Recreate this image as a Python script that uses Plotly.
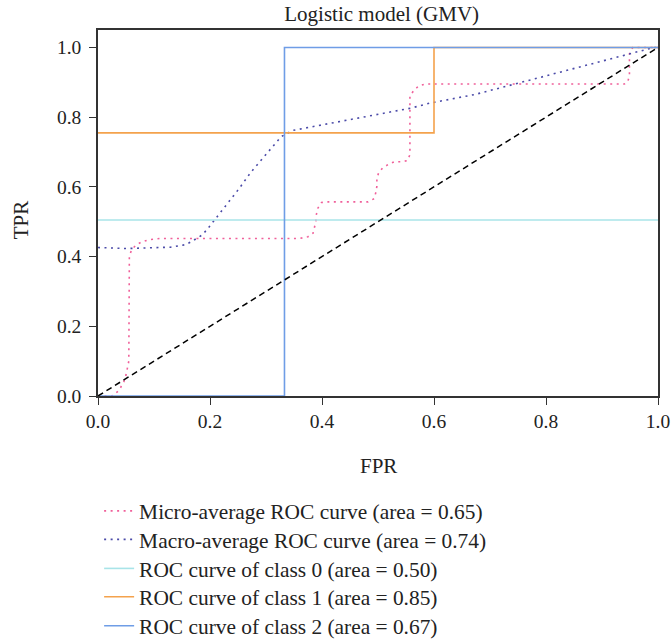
import plotly.graph_objects as go

# ---- data ----
micro_fpr = [0.0, 0.025, 0.037, 0.046, 0.05, 0.055, 0.056, 0.06, 0.068, 0.078, 0.09, 0.11, 0.36, 0.375, 0.384,
             0.389, 0.39, 0.393, 0.399, 0.411, 0.482, 0.493, 0.496, 0.498, 0.498, 0.501, 0.508, 0.518, 0.529,
             0.541, 0.552, 0.557, 0.557, 0.557, 0.557, 0.564, 0.573, 0.585, 0.94, 0.946, 0.949, 0.949, 0.955, 1.0]
micro_tpr = [0.0, 0.0, 0.015, 0.04, 0.06, 0.10, 0.40, 0.42, 0.433, 0.442, 0.448, 0.452, 0.452, 0.457, 0.467,
             0.50, 0.521, 0.54, 0.555, 0.557, 0.557, 0.566, 0.583, 0.602, 0.623, 0.64, 0.654, 0.664, 0.672,
             0.672, 0.675, 0.692, 0.711, 0.82, 0.86, 0.877, 0.89, 0.895, 0.895, 0.901, 0.92, 0.982, 1.0, 1.0]

macro_fpr = [0.0, 0.05, 0.13, 0.156, 0.166, 0.176, 0.185, 0.194, 0.209, 0.223, 0.252, 0.273, 0.303, 0.327,
             0.348, 0.371, 0.382, 0.559, 0.592, 0.673, 0.799, 0.848, 0.903, 0.937, 0.961, 0.973, 0.993, 1.0]
macro_tpr = [0.426, 0.423, 0.427, 0.434, 0.442, 0.452, 0.461, 0.476, 0.507, 0.536, 0.595, 0.642, 0.70, 0.744,
             0.762, 0.769, 0.773, 0.826, 0.84, 0.865, 0.918, 0.939, 0.961, 0.977, 0.987, 0.993, 1.0, 1.0]

c0_fpr = [0.0, 1.0]
c0_tpr = [0.505, 0.505]
c1_fpr = [0.0, 0.6, 0.6, 1.0]
c1_tpr = [0.755, 0.755, 1.0, 1.0]
c2_fpr = [0.0, 0.333, 0.333, 1.0]
c2_tpr = [0.0, 0.0, 1.0, 1.0]

names = ["Micro-average ROC curve (area = 0.65)",
         "Macro-average ROC curve (area = 0.74)",
         "ROC curve of class 0 (area = 0.50)",
         "ROC curve of class 1 (area = 0.85)",
         "ROC curve of class 2 (area = 0.67)"]

FONT = "Liberation Serif"
TXT = "#222222"
legend_ids = ["legend", "legend2", "legend3", "legend4", "legend5"]
legend_y = [-0.3142, -0.3920, -0.4713, -0.5486, -0.6278]

fig = go.Figure()
fig.add_trace(go.Scatter(x=micro_fpr, y=micro_tpr, mode="lines", name=names[0], legend=legend_ids[0],
                         line=dict(color="#f0609a", width=1.6, dash="2px,4.5px")))
fig.add_trace(go.Scatter(x=macro_fpr, y=macro_tpr, mode="lines", name=names[1], legend=legend_ids[1],
                         line=dict(color="#4a4aa8", width=1.6, dash="2px,4.5px")))
fig.add_trace(go.Scatter(x=c0_fpr, y=c0_tpr, mode="lines", name=names[2], legend=legend_ids[2],
                         line=dict(color="#a8e4e8", width=1.6)))
fig.add_trace(go.Scatter(x=c1_fpr, y=c1_tpr, mode="lines", name=names[3], legend=legend_ids[3],
                         line=dict(color="#f4a24c", width=1.6)))
fig.add_trace(go.Scatter(x=c2_fpr, y=c2_tpr, mode="lines", name=names[4], legend=legend_ids[4],
                         line=dict(color="#6f9de6", width=1.6)))
fig.add_trace(go.Scatter(x=[0, 1], y=[0, 1], mode="lines", showlegend=False,
                         line=dict(color="black", width=1.5, dash="6px,4px")))

axis_common = dict(showline=True, linecolor="#333333", linewidth=1.6, mirror=True,
                   ticks="outside", ticklen=7, tickwidth=1.2, tickcolor="#333333",
                   showgrid=False, zeroline=False, automargin=False, layer="above traces",
                   tickfont=dict(family=FONT, size=19.5, color=TXT),
                   tickformat=".1f", dtick=0.2)

legend_layout = {}
for lid, ly in zip(legend_ids, legend_y):
    legend_layout[lid] = dict(x=0.002, y=ly, xanchor="left", yanchor="middle", bgcolor="rgba(0,0,0,0)",
                              font=dict(family=FONT, size=21.4, color=TXT))

fig.update_layout(
    width=672, height=642,
    margin=dict(l=98, r=14, t=30, b=246, autoexpand=False),
    paper_bgcolor="white", plot_bgcolor="white",
    title=dict(text="Logistic model (GMV)", x=0.568, xanchor="center", y=0.978, yanchor="middle",
               font=dict(family=FONT, size=21, color=TXT)),
    xaxis=dict(range=[0, 1], ticklabelstandoff=0, **axis_common),
    yaxis=dict(range=[0, 1.05], ticklabelstandoff=4, **axis_common),
    showlegend=True,
    annotations=[
        dict(text="FPR", xref="paper", yref="paper", x=0.5, y=-0.191, xanchor="center", yanchor="middle",
             showarrow=False, font=dict(family=FONT, size=21, color=TXT)),
        dict(text="TPR", xref="paper", yref="paper", x=-0.137, y=0.481, xanchor="center", yanchor="middle",
             textangle=-90, showarrow=False, font=dict(family=FONT, size=21, color=TXT)),
    ],
    **legend_layout,
)

fig.write_html("out.html", config={"displayModeBar": False},
               post_script="document.body.style.margin='0px';")
